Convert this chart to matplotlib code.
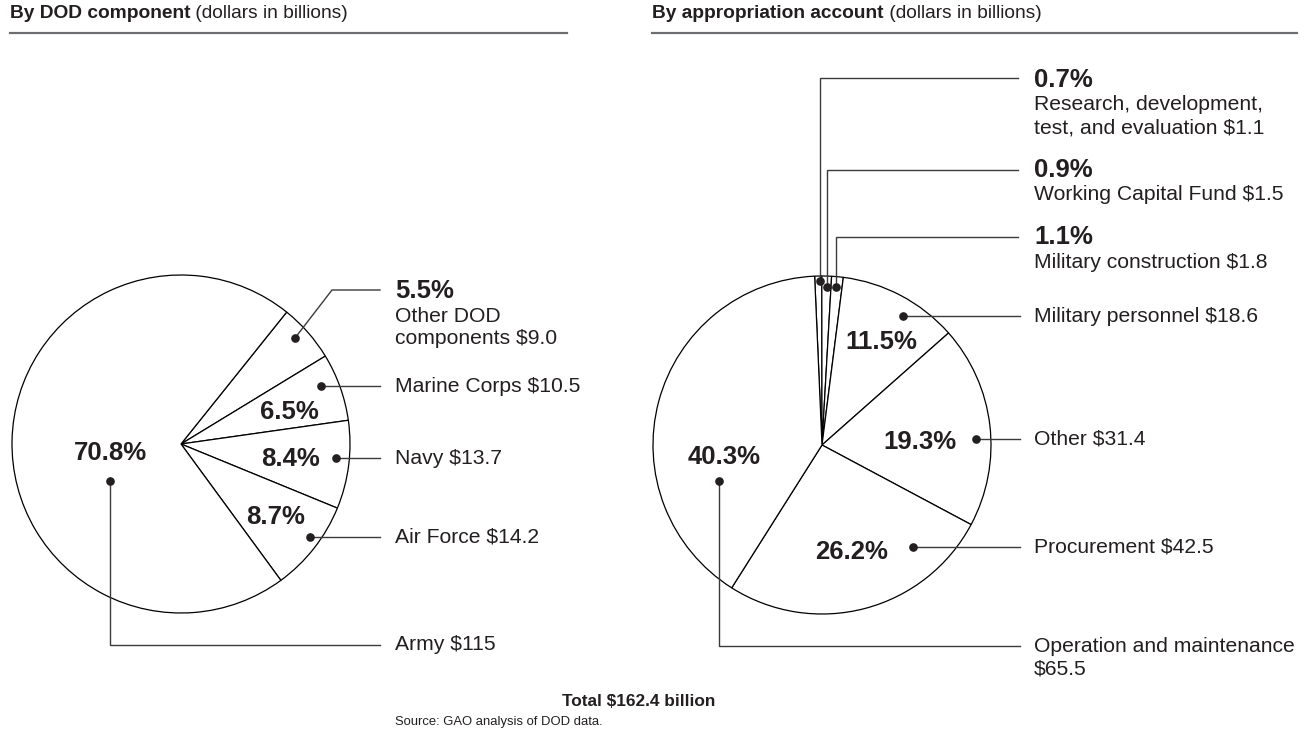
import matplotlib.pyplot as plt

W, H = 1309, 733
INK = "#231f20"
LINE = "#3a3a3a"

plt.rcParams["font.family"] = ["Liberation Sans", "DejaVu Sans"]

# by DOD component (dollars in billions), clockwise from the top wedge
dod_values = [9.0, 10.5, 13.7, 14.2, 115]
dod_labels = ["Other DOD\ncomponents $9.0", "Marine Corps $10.5", "Navy $13.7",
              "Air Force $14.2", "Army $115"]

# by appropriation account (dollars in billions), clockwise from 12 o'clock
acct_values = [1.1, 1.5, 1.8, 18.6, 31.4, 42.5, 65.5]
acct_labels = ["Research, development,\ntest, and evaluation $1.1",
               "Working Capital Fund $1.5", "Military construction $1.8",
               "Military personnel $18.6", "Other $31.4", "Procurement $42.5",
               "Operation and maintenance\n$65.5"]

headers = [("By DOD component", " (dollars in billions)"),
           ("By appropriation account", " (dollars in billions)")]
total_text = "Total $162.4 billion"
source_text = "Source: GAO analysis of DOD data."

PCT_SIZE = 18.5


def pct(v, values):
    return "{:.1f}%".format(100 * v / sum(values))


def yy(y):
    # layout below is read in screen pixels (y down)
    return H - y


def leader(ax, pts):
    xs = [p[0] for p in pts]
    ys = [yy(p[1]) for p in pts]
    ax.plot(xs, ys, color=LINE, lw=1.0, solid_joinstyle="miter", zorder=3)
    ax.plot(xs[0], ys[0], "o", ms=5.2, color=INK, zorder=4)


def text_block(ax, x, y, first, lines, step=24):
    if first:
        ax.text(x, yy(y), first, fontsize=PCT_SIZE, fontweight="bold", color=INK,
                va="center", ha="left")
        y += step + 1
    for ln in lines:
        ax.text(x, yy(y), ln, fontsize=15.2, color=INK, va="center", ha="left")
        y += step - 1


def header(ax, x, y, x_end, bold, plain):
    t = ax.text(x, yy(y), bold, fontsize=13.8, fontweight="bold", color=INK,
                va="center")
    ax.annotate(plain, xy=(1, 0.5), xycoords=t, fontsize=13.8, color=INK,
                va="center", ha="left")
    ax.plot([x, x_end], [yy(33), yy(33)], color="#6d6e71", lw=1.6)


def draw_pie(ax, values, center, start):
    wedges, _ = ax.pie(values, startangle=start, counterclock=False,
                       center=(center[0], yy(center[1])), radius=169,
                       wedgeprops=dict(facecolor="white", edgecolor="black",
                                       linewidth=0.9))
    return wedges


fig = plt.figure(figsize=(W / 100, H / 100), dpi=100)
ax = fig.add_axes([0, 0, 1, 1])

draw_pie(ax, dod_values, (181, 444), 51.3)
draw_pie(ax, acct_values, (822, 445), 92.5)

header(ax, 10, 13, 567, *headers[0])
header(ax, 652, 13, 1297, *headers[1])

# left pie: leaders (dot first), label anchor
left_leaders = [
    [(295, 338), (332, 290), (380, 290)],
    [(321, 386), (380, 386)],
    [(336, 458), (380, 458)],
    [(310, 537), (380, 537)],
    [(110, 481), (110, 645), (380, 645)],
]
left_text_y = [291, 386, 458, 537, 645]
left_inside = [None, (289, 412), (290, 459), (276, 517), (110, 453)]

for i, lab in enumerate(dod_labels):
    leader(ax, left_leaders[i])
    p = pct(dod_values[i], dod_values)
    if left_inside[i] is None:
        text_block(ax, 395, left_text_y[i], p, lab.split("\n"))
    else:
        text_block(ax, 395, left_text_y[i], None, lab.split("\n"))
        ax.text(left_inside[i][0], yy(left_inside[i][1]), p, fontsize=PCT_SIZE,
                fontweight="bold", color=INK, ha="center", va="center")

# right pie
right_leaders = [
    [(820, 281), (820, 78), (1018, 78)],
    [(827, 287), (827, 170), (1018, 170)],
    [(836, 287), (836, 237), (1018, 237)],
    [(903, 316), (1020, 316)],
    [(976, 439), (1020, 439)],
    [(913, 547), (1020, 547)],
    [(719, 481), (719, 646), (1020, 646)],
]
right_text_y = [80, 170, 237, 316, 439, 547, 646]
right_inside = [None, None, None, (881, 342), (920, 442), (852, 552), (724, 457)]

for i, lab in enumerate(acct_labels):
    leader(ax, right_leaders[i])
    p = pct(acct_values[i], acct_values)
    if right_inside[i] is None:
        text_block(ax, 1034, right_text_y[i], p, lab.split("\n"))
    else:
        text_block(ax, 1034, right_text_y[i], None, lab.split("\n"))
        ax.text(right_inside[i][0], yy(right_inside[i][1]), p, fontsize=PCT_SIZE,
                fontweight="bold", color=INK, ha="center", va="center")

ax.text(639, yy(701), total_text, fontsize=12.4, fontweight="bold", color=INK,
        ha="center", va="center")
ax.text(395, yy(722), source_text, fontsize=9.4, color=INK, ha="left", va="center")

ax.set_xlim(0, W)
ax.set_ylim(0, H)
ax.set_aspect("equal")
ax.axis("off")

fig.savefig("out.png", dpi=100, facecolor="white")
